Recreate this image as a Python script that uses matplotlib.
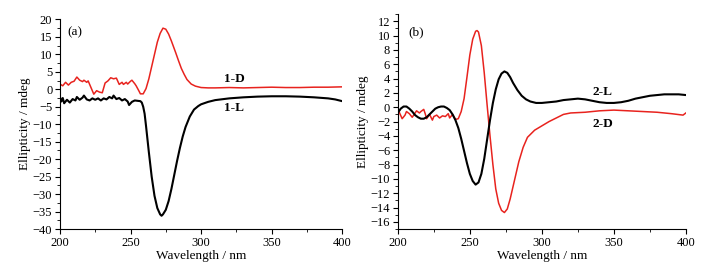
import matplotlib.pyplot as plt
from matplotlib.ticker import MultipleLocator

# panel (a): 1-D (red) and 1-L (black)
wl_1d = [200, 202, 204, 206, 208, 210, 212, 214, 216, 217, 219, 220, 222, 224, 226, 228, 230,
         232, 234, 236, 238, 240, 242, 244, 245, 247, 248, 250, 251, 253, 254, 256, 257, 259,
         261, 263, 265, 267, 269, 271, 273, 275, 277, 279, 282, 284, 286, 288, 290, 293, 296,
         300, 305, 310, 320, 330, 340, 350, 360, 370, 380, 390, 400]
cd_1d = [1.5, 1.0, 2.0, 1.2, 2.0, 2.3, 3.5, 2.6, 2.2, 2.6, 2.0, 2.4, 0.5, -1.4, -0.4, -0.8, -1.0,
         1.8, 2.4, 3.3, 3.0, 3.2, 1.4, 2.0, 1.4, 2.0, 1.5, 2.3, 2.6, 1.6, 1.0, -0.5, -1.3, -1.3,
         0.2, 3.0, 6.5, 10.0, 13.5, 16.0, 17.5, 17.2, 15.8, 13.8, 10.5, 8.2, 6.0, 4.3, 2.8, 1.5, 0.9,
         0.5, 0.4, 0.4, 0.5, 0.4, 0.5, 0.6, 0.5, 0.5, 0.6, 0.6, 0.7]

wl_1l = [200, 201, 202, 203, 205, 207, 209, 211, 212, 214, 216, 217, 219, 221, 223, 225, 227,
         229, 231, 233, 235, 237, 238, 240, 242, 244, 246, 248, 249, 251, 253, 255, 257, 258,
         259, 260, 261, 263, 265, 267, 269, 271, 272, 273, 275, 277, 279, 281, 283, 285, 287,
         289, 292, 295, 298, 300, 305, 310, 320, 330, 340, 350, 360, 370, 380, 390, 395, 400]
cd_1l = [-2.2, -3.5, -2.5, -4.0, -3.0, -3.8, -2.8, -3.2, -2.2, -3.0, -2.4, -1.8, -2.9, -3.2, -2.6, -3.0, -2.6,
         -3.2, -2.6, -2.9, -2.2, -2.6, -1.8, -2.8, -2.5, -3.2, -2.8, -3.5, -4.5, -3.6, -3.2, -3.3, -3.4, -3.8,
         -5.0, -7.0, -10.5, -18.0, -25.0, -30.5, -34.0, -35.8, -36.2, -35.8, -34.5, -32.0, -28.5, -24.5, -20.5, -16.8, -13.5,
         -10.8, -7.8, -5.8, -4.8, -4.3, -3.6, -3.1, -2.6, -2.3, -2.1, -2.0, -2.0, -2.1, -2.3, -2.6, -2.9, -3.4]

# panel (b): 2-L (black) and 2-D (red)
wl_2l = [200, 202, 204, 206, 208, 210, 212, 214, 216, 218, 220, 222, 224, 226, 228, 230, 232,
         234, 236, 238, 240, 242, 244, 246, 248, 250, 252, 254, 256, 258, 260, 262, 264, 266,
         268, 270, 272, 274, 276, 278, 280, 283, 286, 289, 292, 296, 300, 305, 310, 315, 320,
         325, 330, 335, 340, 345, 350, 355, 360, 365, 370, 375, 380, 385, 390, 395, 400]
cd_2l = [-0.8, -0.2, 0.1, 0.1, -0.2, -0.6, -1.1, -1.4, -1.6, -1.6, -1.4, -1.0, -0.6, -0.2, 0.0, 0.1, 0.1,
         -0.1, -0.4, -1.0, -1.8, -2.9, -4.4, -6.1, -7.8, -9.3, -10.3, -10.8, -10.5, -9.3, -7.2, -4.5, -1.8, 0.6,
         2.5, 3.9, 4.7, 5.0, 4.8, 4.2, 3.4, 2.4, 1.6, 1.1, 0.8, 0.6, 0.6, 0.7, 0.8, 1.0, 1.1,
         1.2, 1.1, 0.9, 0.7, 0.6, 0.6, 0.7, 0.9, 1.2, 1.4, 1.6, 1.7, 1.8, 1.8, 1.8, 1.7]

wl_2d = [200, 201, 203, 205, 206, 208, 210, 212, 213, 215, 216, 218, 219, 220, 222, 224, 225,
         227, 229, 231, 233, 235, 236, 238, 240, 242, 244, 246, 248, 250, 252, 254, 255, 256,
         258, 260, 262, 264, 266, 268, 270, 272, 274, 276, 278, 281, 284, 287, 290, 295, 300,
         305, 310, 315, 320, 330, 340, 350, 360, 370, 380, 390, 398, 400]
cd_2d = [-1.0, -0.7, -1.6, -1.1, -0.6, -0.9, -1.4, -0.8, -0.5, -0.8, -0.6, -0.3, -0.9, -1.6, -1.0, -1.8, -1.3,
         -1.1, -1.5, -1.2, -1.3, -0.9, -1.5, -1.0, -1.7, -1.6, -0.6, 1.2, 4.2, 7.3, 9.5, 10.6, 10.7, 10.5,
         8.6, 4.8, 0.3, -4.0, -8.0, -11.4, -13.4, -14.4, -14.7, -14.2, -12.8, -10.2, -7.6, -5.6, -4.2, -3.2, -2.6,
         -2.0, -1.5, -1.0, -0.8, -0.7, -0.5, -0.4, -0.5, -0.6, -0.7, -0.9, -1.1, -0.8]

plt.rcParams['font.family'] = ['Liberation Serif', 'DejaVu Serif']
plt.rcParams['font.size'] = 9

fig = plt.figure(figsize=(7.22, 2.66), dpi=100)
ax1 = fig.add_axes([0.083, 0.139, 0.391, 0.788])
ax2 = fig.add_axes([0.551, 0.139, 0.399, 0.808])

ax1.plot(wl_1d, cd_1d, color='#e8231e', lw=1.1)
ax1.plot(wl_1l, cd_1l, color='black', lw=1.5)
ax1.set_xlim(200, 400)
ax1.set_ylim(-40, 20)
ax1.yaxis.set_major_locator(MultipleLocator(5))
ax1.yaxis.set_minor_locator(MultipleLocator(2.5))
ax1.text(316, 2.9, '1-D', fontweight='bold', fontsize=9.5, va='center')
ax1.text(316, -5.4, '1-L', fontweight='bold', fontsize=9.5, va='center')
ax1.text(205, 16.3, '(a)', fontsize=9.5, va='center')

ax2.plot(wl_2d, cd_2d, color='#e8231e', lw=1.1)
ax2.plot(wl_2l, cd_2l, color='black', lw=1.5)
ax2.set_xlim(200, 400)
ax2.set_ylim(-17, 13)
ax2.yaxis.set_major_locator(MultipleLocator(2))
ax2.yaxis.set_minor_locator(MultipleLocator(1))
ax2.text(335, 2.1, '2-L', fontweight='bold', fontsize=9.5, va='center')
ax2.text(335, -2.4, '2-D', fontweight='bold', fontsize=9.5, va='center')
ax2.text(207, 10.4, '(b)', fontsize=9.5, va='center')

for ax in (ax1, ax2):
    ax.spines['top'].set_visible(False)
    ax.spines['right'].set_visible(False)
    ax.xaxis.set_major_locator(MultipleLocator(50))
    ax.xaxis.set_minor_locator(MultipleLocator(25))
    ax.tick_params(which='major', direction='out', length=3.5, width=0.8, pad=2, labelsize=9)
    ax.tick_params(which='minor', direction='out', length=2, width=0.6)
    ax.set_xlabel('Wavelength / nm', fontsize=9.5, labelpad=1)
    ax.set_ylabel('Ellipticity / mdeg', fontsize=9.5, labelpad=1)

plt.savefig('out.png', dpi=100)
